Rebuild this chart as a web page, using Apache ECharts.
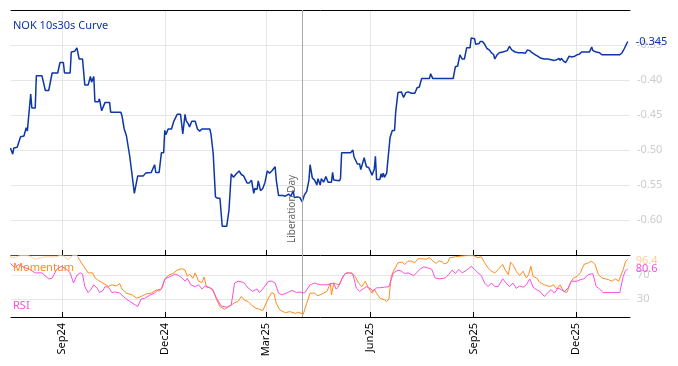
<!DOCTYPE html>
<html><head><meta charset="utf-8">
<script src="https://cdn.jsdelivr.net/npm/echarts@6/dist/echarts.min.js"></script>
<style>html,body{margin:0;padding:0;background:#fff}#c{width:678px;height:366px}</style>
</head><body><div id="c"></div>
<script>
// Dates are stored as day offsets from BASE_DATE
const BASE_DATE = '2024-09-01';
const X_START_DAY = -45.5, X_END_DAY = 504;

const curveDays = [-46,-44,-43,-40,-37,-34,-32,-31,-30,-28,-27,-24,-23,-18,-15,-12,-9,-4,-2,1,2,7,8,11,13,15,18,20,23,25,26,28,29,32,33,35,38,42,43,52,53,55,57,60,64,67,72,74,79,82,83,86,88,90,91,92,94,97,99,100,102,103,105,106,107,109,110,112,113,115,118,120,122,124,131,132,134,136,138,140,142,146,148,150,152,154,157,159,161,162,164,166,168,170,171,173,174,176,178,180,182,184,186,187,189,190,192,196,198,201,203,205,206,209,211,213,215,217,219,220,222,224,226,227,229,230,232,234,236,239,240,241,246,247,248,251,256,258,259,262,264,265,266,268,270,272,274,275,277,278,279,282,283,284,285,286,288,289,291,293,295,296,298,301,303,305,307,310,313,315,317,319,323,326,327,329,334,340,344,347,349,351,353,355,357,359,362,363,364,366,367,370,371,373,375,377,379,381,383,384,386,388,391,395,397,399,400,402,405,406,409,411,413,415,417,420,422,425,428,431,434,437,439,441,442,443,445,447,448,450,452,455,457,459,461,465,468,470,471,474,477,479,486,495,497,499,500,502];
const curveVals = [-0.497,-0.506,-0.497,-0.496,-0.481,-0.480,-0.468,-0.473,-0.472,-0.420,-0.440,-0.440,-0.394,-0.394,-0.415,-0.415,-0.390,-0.390,-0.375,-0.375,-0.390,-0.390,-0.360,-0.359,-0.354,-0.370,-0.370,-0.407,-0.407,-0.395,-0.403,-0.395,-0.431,-0.431,-0.427,-0.444,-0.432,-0.432,-0.446,-0.446,-0.451,-0.470,-0.480,-0.510,-0.562,-0.537,-0.537,-0.533,-0.532,-0.521,-0.532,-0.532,-0.504,-0.504,-0.472,-0.478,-0.470,-0.470,-0.459,-0.459,-0.449,-0.450,-0.449,-0.449,-0.477,-0.449,-0.458,-0.463,-0.467,-0.459,-0.459,-0.470,-0.473,-0.470,-0.470,-0.477,-0.505,-0.567,-0.569,-0.569,-0.609,-0.609,-0.586,-0.534,-0.539,-0.535,-0.530,-0.535,-0.537,-0.537,-0.547,-0.547,-0.543,-0.562,-0.555,-0.556,-0.544,-0.558,-0.555,-0.546,-0.530,-0.533,-0.530,-0.532,-0.524,-0.543,-0.565,-0.565,-0.566,-0.563,-0.566,-0.558,-0.568,-0.567,-0.568,-0.574,-0.564,-0.559,-0.543,-0.521,-0.540,-0.543,-0.550,-0.541,-0.550,-0.541,-0.546,-0.538,-0.546,-0.546,-0.532,-0.543,-0.544,-0.541,-0.504,-0.504,-0.504,-0.500,-0.510,-0.520,-0.520,-0.528,-0.529,-0.511,-0.524,-0.525,-0.532,-0.536,-0.527,-0.509,-0.542,-0.542,-0.534,-0.539,-0.533,-0.539,-0.533,-0.532,-0.482,-0.472,-0.472,-0.446,-0.418,-0.417,-0.425,-0.418,-0.417,-0.419,-0.419,-0.411,-0.410,-0.398,-0.398,-0.398,-0.391,-0.398,-0.398,-0.398,-0.398,-0.398,-0.381,-0.380,-0.364,-0.370,-0.370,-0.354,-0.354,-0.340,-0.341,-0.341,-0.349,-0.348,-0.345,-0.345,-0.349,-0.355,-0.357,-0.361,-0.364,-0.370,-0.364,-0.361,-0.360,-0.358,-0.352,-0.357,-0.357,-0.360,-0.361,-0.363,-0.361,-0.362,-0.357,-0.358,-0.361,-0.364,-0.366,-0.369,-0.370,-0.370,-0.371,-0.372,-0.371,-0.369,-0.372,-0.369,-0.373,-0.375,-0.372,-0.366,-0.367,-0.366,-0.364,-0.363,-0.360,-0.360,-0.360,-0.353,-0.358,-0.360,-0.361,-0.364,-0.364,-0.364,-0.361,-0.355,-0.353,-0.345];

const momDays = [-46,-42,-38,-30,-24,-15,-6,0,5,9,13,16,19,23,27,29,32,36,41,44,48,51,53,57,62,66,70,75,79,84,86,89,91,94,99,102,106,109,111,113,116,118,121,124,126,128,131,134,137,140,144,149,153,156,159,162,165,168,172,175,178,183,186,188,190,193,198,202,207,209,214,217,220,224,227,232,235,238,239,241,244,246,249,252,257,260,263,266,269,272,275,277,279,282,286,288,290,292,294,298,302,304,307,310,313,316,320,323,326,329,332,334,337,339,342,344,349,353,359,365,369,372,375,378,381,384,387,391,393,396,398,400,403,406,409,412,414,416,418,421,424,428,433,436,439,442,445,448,451,454,457,460,463,467,470,473,476,479,482,485,488,491,494,495,498,500,502];
const momVals = [101,99,103,103,97,101,101,104,96,103,103,94,85,74,74,65.6,61.5,57,51.4,54,52,56,47,40,37,31.6,34.4,39,40,45.7,43,50,62.7,69.5,74,78.5,81,79,68,72,65,74,60,58,67,50,49,45.8,28.8,17.5,13,18.6,24,26,34.4,28,26,20,14.7,13,10.7,31.7,41,39,23,12,7.3,9,6,8,5,23,40,40,35.6,40,43,57,37,57,55,54,68,74,74,68,57,51,60,48,40,47,40,31.6,28.8,26,30,68,76.8,91,92,88,93.7,93.7,91,97.7,97.7,97,99.4,94,89.8,94,93,89,91,99.4,101,102,103,103,99.4,101,91,82.5,76.8,74,79.7,88,79.7,71,92,88,76.8,69.5,76.8,65.6,71,85,68,65.6,58,54,51,54,47,54,43,41,57,65.6,68,74,88,91,93.7,88,71,65.6,64,62.7,60,64,60,57,79.7,93,96.4];

const rsiDays = [-46,-42,-39,-33,-29,-24,-18,-12,-9,-5,-1,4,7,10,13,16,18,20,23,25,28,31,33,36,38,41,44,47,51,56,60,65,67,70,73,78,82,85,88,91,96,100,103,106,109,111,114,118,121,124,127,130,133,137,141,146,150,153,156,161,165,169,173,175,178,183,186,189,192,195,199,204,208,211,215,220,224,229,235,241,243,245,248,251,255,258,261,264,267,270,274,276,279,282,286,290,292,294,298,301,304,307,312,315,318,321,325,328,331,335,340,343,346,349,352,355,359,363,366,369,372,375,378,381,384,387,391,394,397,400,403,406,409,412,415,418,421,424,428,431,434,437,440,443,446,449,452,457,460,463,467,471,474,477,480,486,495,496,498,500,502];
const rsiVals = [89.8,82.5,88,82.5,80,74,74,63.8,65,79.7,85,80,74,57,70,74,72,51,41,45,54,48,41,44,51,50,41,42,40,31.6,26,20,17.5,30,31,37,40,45.8,47,64,68,72,70,66,60,65,54,51,54,47,52,50,47,31.6,18.6,16.4,20,57,60,58,48.6,43,47,41,47,60,60,57,40,37,40,44.6,41,42,40,54,57,54,54,57,47,50,62.7,72.9,74,72,48.6,43,47,51,47,43,49,49,50,51,62.7,74,78.5,77,73,74,69.5,75,81,84,82,80,65.6,64,65.6,71,78.5,73,80,74,78.5,85,80,74,69.5,57,51,57,51,51,64,57,51,57,48,52,50,54,64,50,45.8,43,34.4,41,45.8,40,48.6,45.8,43,48.6,60,60,62.7,64,71,72.9,51,47,41,41,41,51,68,78,80.6];

const tickDates = ['2024-09-01','2024-12-01','2025-03-01','2025-06-01','2025-09-01','2025-12-01'];
const eventDate = '2025-04-02';
const eventName = 'Liberation Day';
const titleText = 'NOK 10s30s Curve';
const momName = 'Momentum', rsiName = 'RSI';

const DAY = 86400000;
const base = Date.parse(BASE_DATE);
const dayOf = s => Math.round((Date.parse(s) - base) / DAY);
const pair = (days, vals) => days.map((d, i) => [d, vals[i]]);
const tickDays = tickDates.map(dayOf);
const eventDay = dayOf(eventDate);
const MON = ['Jan','Feb','Mar','Apr','May','Jun','Jul','Aug','Sep','Oct','Nov','Dec'];
const fmtDay = v => { const d = new Date(base + Math.round(v) * DAY); return MON[d.getUTCMonth()] + String(d.getUTCFullYear()).slice(2); };

const BLUE = '#0d36a6', ORANGE = '#ff8c1a', MAGENTA = '#fa4fe0';
const GRID = '#e6e6e6', LBL = '#cccccc';
const FONT = 'Noto Sans';

const chart = echarts.init(document.getElementById('c'), null, {renderer: 'canvas'});
const xCommon = {type: 'value', min: X_START_DAY, max: X_END_DAY};
chart.setOption({
  animation: false,
  textStyle: {fontFamily: FONT},
  grid: [
    {left: 11, right: 48, top: 10, height: 245},
    {left: 11, right: 48, top: 255, height: 62}
  ],
  xAxis: [
    Object.assign({}, xCommon, {gridIndex: 0, position: 'bottom',
      axisLine: {show: true, onZero: false, lineStyle: {color: '#000', width: 1}},
      axisTick: {show: true, inside: true, length: 5, lineStyle: {color: '#000'}, customValues: tickDays},
      axisLabel: {show: false, customValues: tickDays},
      splitLine: {show: true, lineStyle: {color: GRID}}}),
    Object.assign({}, xCommon, {gridIndex: 0, position: 'top',
      axisLine: {show: true, onZero: false, lineStyle: {color: '#000', width: 1}},
      axisTick: {show: false}, axisLabel: {show: false}, splitLine: {show: false}}),
    Object.assign({}, xCommon, {gridIndex: 1, position: 'bottom',
      axisLine: {show: true, onZero: false, lineStyle: {color: '#000', width: 1}},
      axisTick: {show: true, inside: true, length: 5, lineStyle: {color: '#000'}, customValues: tickDays},
      axisLabel: {show: true, customValues: tickDays, rotate: 90, formatter: fmtDay, color: '#000', fontSize: 11, margin: 6, fontFamily: FONT},
      splitLine: {show: true, lineStyle: {color: GRID}}})
  ],
  yAxis: [
    {type: 'value', gridIndex: 0, position: 'right', min: -0.65, max: -0.30, interval: 0.05,
      axisLine: {show: false}, axisTick: {show: false},
      axisLabel: {color: LBL, fontSize: 11, margin: 7, showMinLabel: false, showMaxLabel: false, formatter: v => v.toFixed(2), fontFamily: FONT},
      splitLine: {show: true, lineStyle: {color: GRID}}},
    {type: 'value', gridIndex: 1, position: 'right', min: 0, max: 104,
      axisLine: {show: false}, axisTick: {show: false, customValues: [30, 70]},
      axisLabel: {color: LBL, fontSize: 11, margin: 7, customValues: [30, 70], fontFamily: FONT},
      splitLine: {show: true, lineStyle: {color: GRID}}}
  ],
  series: [
    {type: 'line', name: titleText, xAxisIndex: 0, yAxisIndex: 0, data: pair(curveDays, curveVals),
      showSymbol: false, z: 3, lineStyle: {color: BLUE, width: 1.5}, itemStyle: {color: BLUE},
      endLabel: {show: true, formatter: p => p.value[1].toFixed(3), color: BLUE, fontSize: 11, distance: 8, fontFamily: FONT},
      markLine: {silent: true, symbol: 'none', animation: false,
        lineStyle: {color: '#a8a8a8', type: 'solid', width: 1},
        label: {show: true, formatter: eventName, position: 'insideStartTop', distance: [12, 5], color: '#666', fontSize: 10, fontFamily: FONT},
        data: [{xAxis: eventDay}]}},
    {type: 'line', name: momName, xAxisIndex: 2, yAxisIndex: 1, data: pair(momDays, momVals),
      showSymbol: false, z: 2, lineStyle: {color: ORANGE, width: 1}, itemStyle: {color: ORANGE},
      endLabel: {show: true, formatter: p => p.value[1].toFixed(1), color: 'rgba(255,140,26,0.45)', fontSize: 11, distance: 8, offset: [0, 1], fontFamily: FONT},
      markLine: {silent: true, symbol: 'none', animation: false,
        lineStyle: {color: '#a8a8a8', type: 'solid', width: 1}, label: {show: false},
        data: [{xAxis: eventDay}]}},
    {type: 'line', name: rsiName, xAxisIndex: 2, yAxisIndex: 1, data: pair(rsiDays, rsiVals),
      showSymbol: false, z: 5, lineStyle: {color: MAGENTA, width: 1}, itemStyle: {color: MAGENTA},
      endLabel: {show: true, formatter: p => p.value[1].toFixed(1), color: MAGENTA, fontSize: 11, distance: 8, fontFamily: FONT}}
  ],
  graphic: [
    {type: 'rect', z: 3, silent: true, shape: {x: 11, y: 255.5, width: 67, height: 20}, style: {fill: 'rgba(255,255,255,0.6)'}},
    {type: 'text', z: 10, silent: true, x: 13, y: 26, style: {text: titleText, fill: BLUE, fontSize: 11, fontFamily: FONT, verticalAlign: 'middle'}},
    {type: 'text', z: 10, silent: true, x: 13, y: 268, style: {text: momName, fill: ORANGE, fontSize: 11, fontFamily: FONT, verticalAlign: 'middle'}},
    {type: 'text', z: 10, silent: true, x: 13, y: 306, style: {text: rsiName, fill: MAGENTA, fontSize: 11, fontFamily: FONT, verticalAlign: 'middle'}}
  ]
});
</script></body></html>
